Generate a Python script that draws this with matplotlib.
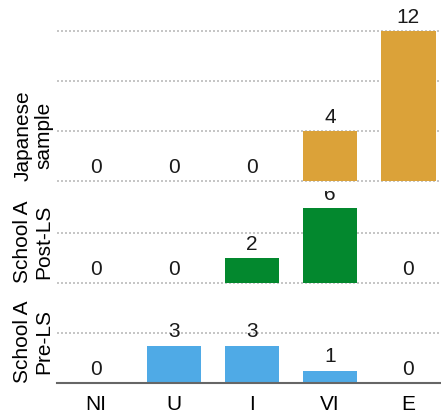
import numpy as np
import matplotlib
matplotlib.use("Agg")
import matplotlib.pyplot as plt

plt.rcParams['font.family'] = ['Liberation Sans', 'DejaVu Sans']

categories = ["NI", "U", "I", "VI", "E"]
japanese = [0, 0, 0, 4, 12]
post_ls = [0, 0, 2, 6, 0]
pre_ls = [0, 3, 3, 1, 0]

gold = "#DBA239"
green = "#03882E"
blue = "#4FAAE6"

fig = plt.figure(figsize=(4.41, 4.16), dpi=100)
x = np.arange(len(categories))

def panel(rect, vals, color, ylim, grid, label, baseline=False):
    ax = fig.add_axes(rect, facecolor="white")
    ax.bar(x, vals, width=0.7, color=color, zorder=2)
    for xi, v in zip(x, vals):
        ax.annotate(str(v), (xi, v), xytext=(0, 3), textcoords="offset points",
                    ha="center", va="bottom", fontsize=15, color="#1a1a1a",
                    annotation_clip=False)
    for g in grid:
        ax.axhline(g, color="#bbbbbb", lw=1.2, ls=(0, (1.2, 1.2)), zorder=1)
    ax.set_xlim(-0.5, 4.42)
    ax.set_ylim(*ylim)
    for s in ax.spines.values():
        s.set_visible(False)
    ax.set_yticks([])
    ax.text(-0.062, 0, label, transform=ax.get_yaxis_transform(), rotation=90,
            ha="center", va="bottom", fontsize=15, linespacing=1.1)
    if baseline:
        ax.spines["bottom"].set_visible(True)
        ax.spines["bottom"].set_color("#666666")
        ax.spines["bottom"].set_linewidth(1.5)
        ax.set_xticks(x)
        ax.set_xticklabels(categories, fontsize=15)
        ax.tick_params(axis="x", length=0, pad=9)
    else:
        ax.set_xticks([])
    return ax

left = 57 / 441
width = 1 - left
panel([left, 1 - 383 / 416, width, 93.75 / 416], pre_ls, blue, (0, 7.5), [4],
      "School A\nPre-LS", baseline=True)
panel([left, 1 - 289.25 / 416, width, 101.25 / 416], post_ls, green, (-0.5, 7.6), [0, 4],
      "School A\nPost-LS")
# top panel drawn last so its white background clips the "6" label, as in the source
panel([left, 1 - 191 / 416, width, 178.75 / 416], japanese, gold, (-0.8, 13.5), [0, 4, 8, 12],
      "Japanese\nsample")

fig.savefig("out.png", dpi=100)
